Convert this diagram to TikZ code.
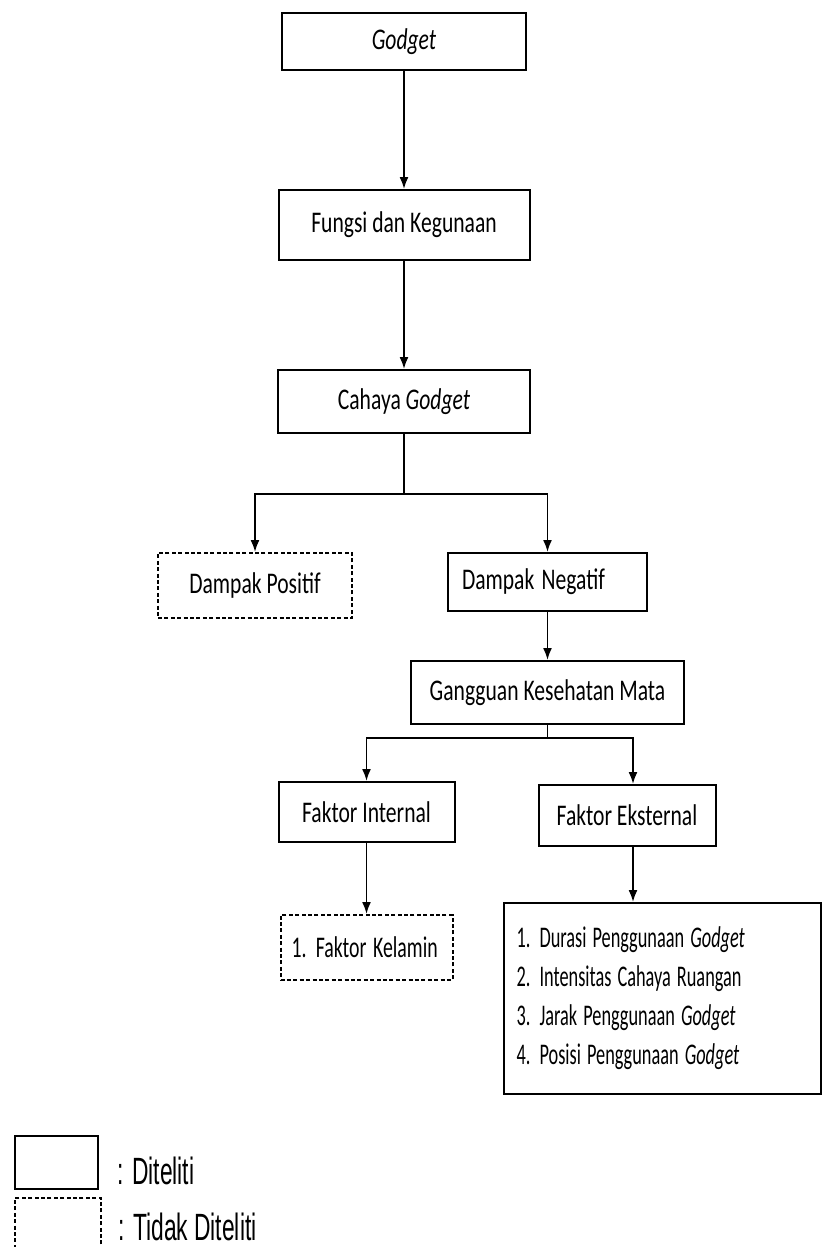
\documentclass[tikz,border=0pt]{standalone}
\usepackage{graphicx}
\usepackage{fontspec}
\setmainfont{Carlito}
\newfontfamily\legendfont{Liberation Sans}
\usetikzlibrary{arrows.meta,positioning,calc}
% narrow text
\newcommand{\squeeze}[2][0.72]{\scalebox{#1}[1]{#2}}
\tikzset{
	% standard arrow tip
	>={Latex[length=6pt,width=4.5pt]},
	% box style
	box/.style={
		rectangle,
		draw=black, line width=1pt,
		minimum height=30pt,
		font=\fontsize{15}{18}\selectfont
	},
	% box that is not studied
	dashbox/.style={
		box,
		dash pattern=on 2pt off 1.2pt
	},
	% arrow style
	arrow/.style={
		->,
		line width=0.9pt
	},
	% legend text
	legend/.style={
		inner sep=0pt,
		font=\legendfont\fontsize{19}{22}\selectfont
	}
}
\begin{document}
\begin{tikzpicture}
	\useasboundingbox (0,0) rectangle (411pt,-623.5pt);

	\node[box,minimum width=122pt,minimum height=28.5pt] (godget) at (202pt,-20.75pt)
		{\squeeze{\itshape Godget}};
	\node[box,minimum width=125.5pt,minimum height=35pt,below=59pt of godget] (fungsi)
		{\squeeze{Fungsi dan Kegunaan}};
	\node[box,minimum width=126pt,minimum height=31.5pt,below=54pt of fungsi] (cahaya)
		{\squeeze{Cahaya \textit{Godget}}};
	\node[dashbox,minimum width=97pt,minimum height=32.5pt,below=59pt of cahaya,xshift=-74.5pt] (positif)
		{\squeeze{Dampak Positif}};
	\node[box,minimum height=29pt,inner xsep=7pt,text width=85.5pt,align=left,below=59pt of cahaya,xshift=71.75pt] (negatif)
		{\squeeze{Dampak Negatif}};
	\node[box,minimum width=136.5pt,minimum height=31.5pt,below=24pt of negatif] (gangguan)
		{\squeeze{Gangguan Kesehatan Mata}};
	\node[box,minimum width=88pt,minimum height=30pt,below=28pt of gangguan,xshift=-90.5pt] (internal)
		{\squeeze{Faktor Internal}};
	\node[box,minimum width=88.5pt,minimum height=30.5pt,below=29.5pt of gangguan,xshift=39.75pt] (eksternal)
		{\squeeze{Faktor Eksternal}};
	\node[dashbox,minimum height=32.5pt,inner xsep=5.5pt,text width=75pt,align=left,below=35.5pt of internal] (kelamin)
		{\squeeze[0.66]{1.\hspace{7pt}Faktor Kelamin}};
	\node[box,minimum height=95.5pt,inner xsep=6.5pt,text width=145.5pt,align=left,
		font=\fontsize{15}{19.5}\selectfont,below=27.5pt of eksternal,xshift=17.5pt] (faktorlist)
		{\squeeze[0.61]{1. Durasi Penggunaan \textit{Godget}}\\
		 \squeeze[0.61]{2. Intensitas Cahaya Ruangan}\\
		 \squeeze[0.61]{3. Jarak Penggunaan \textit{Godget}}\\
		 \squeeze[0.61]{4. Posisi Penggunaan \textit{Godget}}};

	% legend
	\node[box,minimum width=41.5pt,minimum height=26.5pt,anchor=north west] (ditelitibox) at (7pt,-567.5pt) {};
	\node[dashbox,minimum width=43pt,minimum height=25pt,below=3.5pt of ditelitibox.south west,anchor=north west] (tidakbox) {};
	\node[legend,right=9pt of ditelitibox,yshift=-4pt] (diteliti) {\squeeze[0.6]{: Diteliti}};
	\node[legend,right=8pt of tidakbox,yshift=-2pt] (tidak) {\squeeze[0.6]{: Tidak Diteliti}};

	% connectors
	\coordinate (split1) at ($(cahaya.south)+(0,-30pt)$);
	\coordinate (split2) at ($(gangguan.south)+(0,-6.5pt)$);
	\draw[arrow] (godget) -- (fungsi);
	\draw[arrow] (fungsi) -- (cahaya);
	\draw[line width=0.9pt] (cahaya.south) -- (split1);
	\draw[arrow] (split1) -| (positif.north);
	\draw[arrow] (split1) -| (negatif.north);
	\draw[arrow] (negatif) -- (gangguan);
	\draw[line width=0.9pt] (gangguan.south) -- (split2);
	\draw[arrow] (split2) -| (internal.north);
	\draw[arrow] (split2) -| ([xshift=3pt]eksternal.north);
	\draw[arrow] (internal) -- (kelamin);
	\draw[arrow] ([xshift=3pt]eksternal.south) -- ([xshift=3pt]eksternal.south |- faktorlist.north);
\end{tikzpicture}
\end{document}
